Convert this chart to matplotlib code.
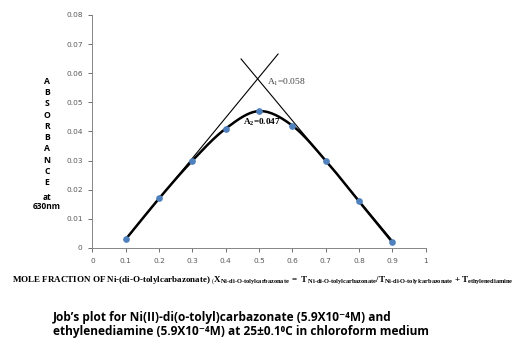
import numpy as np
import matplotlib
matplotlib.use("Agg")
import matplotlib.pyplot as plt

x_frac = [0.1, 0.2, 0.3, 0.4, 0.5, 0.6, 0.7, 0.8, 0.9]
absorb = [0.003, 0.017, 0.030, 0.041, 0.047, 0.042, 0.030, 0.016, 0.002]
left_tangent_x = [0.1, 0.557]
left_tangent_y = [0.003, 0.0666]
right_tangent_x = [0.446, 0.9]
right_tangent_y = [0.0649, 0.0025]
xticks = [0, 0.1, 0.2, 0.3, 0.4, 0.5, 0.6, 0.7, 0.8, 0.9, 1]
yticks = [0, 0.01, 0.02, 0.03, 0.04, 0.05, 0.06, 0.07, 0.08]


def catmull_rom(xs, ys, n=30):
    xs = np.asarray(xs, float); ys = np.asarray(ys, float)
    P = np.column_stack([xs, ys])
    P = np.vstack([P[0] - (P[1] - P[0]), P, P[-1] + (P[-1] - P[-2])])
    out = []
    t = np.linspace(0, 1, n)[:, None]
    for i in range(1, len(P) - 2):
        p0, p1, p2, p3 = P[i - 1], P[i], P[i + 1], P[i + 2]
        seg = 0.5 * ((2 * p1) + (-p0 + p2) * t + (2 * p0 - 5 * p1 + 4 * p2 - p3) * t ** 2
                     + (-p0 + 3 * p1 - 3 * p2 + p3) * t ** 3)
        out.append(seg)
    out = np.vstack(out)
    return out[:, 0], out[:, 1]


plt.rcParams['mathtext.fontset'] = 'custom'
plt.rcParams['mathtext.rm'] = 'Liberation Serif'
plt.rcParams['mathtext.bf'] = 'Liberation Serif:bold'
plt.rcParams['mathtext.it'] = 'Liberation Serif:italic'

fig = plt.figure(figsize=(5.23, 3.43), dpi=100)
ax = fig.add_axes([0.1767, 0.277, 0.6373, 0.6793])

ax.plot(left_tangent_x, left_tangent_y, color='black', lw=0.8)
ax.plot(right_tangent_x, right_tangent_y, color='black', lw=0.8)
cx, cy = catmull_rom(x_frac, absorb)
ax.plot(cx, cy, color='black', lw=1.8)
ax.plot(x_frac, absorb, 'o', color='#4F81BD', ms=3.8, zorder=5)

ax.set_xlim(0, 1)
ax.set_ylim(0, 0.08)
ax.set_xticks(xticks)
ax.set_xticklabels([f"{v:g}" for v in xticks])
ax.set_yticks(yticks)
ax.set_yticklabels([f"{v:g}" for v in yticks])
ax.tick_params(labelsize=5.3, colors='#595959', length=3, width=0.6, pad=4)
for s in ['top', 'right']:
    ax.spines[s].set_visible(False)
for s in ['left', 'bottom']:
    ax.spines[s].set_color('#868686')
    ax.spines[s].set_linewidth(0.7)

ax.text(0.524, 0.0567, r"A$_1$=0.058", fontsize=6.8, family='Liberation Serif',
        color='#404040', va='center', ha='left')
ax.text(0.452, 0.0432, r"$\mathbf{A_2}$=0.047", fontsize=6.6, family='Liberation Serif',
        fontweight='bold', va='center', ha='left')

# vertical y label
ylab = "A\nB\nS\nO\nR\nB\nA\nN\nC\nE"
fig.text(47 / 523, 1 - 132 / 343, ylab, fontsize=6.2, fontweight='bold', family=['Open Sans', 'DejaVu Sans'],
         ha='center', va='center', linespacing=1.33)
fig.text(47 / 523, 1 - 202 / 343, "at\n630nm", fontsize=6.0, fontweight='bold', family=['Open Sans', 'DejaVu Sans'],
         ha='center', va='center', linespacing=1.05)

xl = (r"MOLE FRACTION OF Ni-(di-O-tolylcarbazonate) "
      r"$_{(}\mathbf{X}_{\mathbf{Ni\text{-}di\text{-}O\text{-}tolylcarbazonate}}"
      r"\ \mathbf{=\ T}_{\ \mathbf{Ni\text{-}di\text{-}O\text{-}tolylcarbazonate}}"
      r"\mathbf{/T}_{\mathbf{Ni\text{-}di\text{-}O\text{-}tolylcarbazonate}}"
      r"\ \mathbf{+\ T}_{\mathbf{ethylenediamine}}$")
fig.text(12 / 523, 1 - 281 / 343, xl, fontsize=6.5, fontweight='bold', family='Liberation Serif',
         ha='left', va='center')

title = ("Job\u2019s plot for Ni(II)-di(o-tolyl)carbazonate (5.9X10\u207b\u2074M) and\n"
         "ethylenediamine (5.9X10\u207b\u2074M) at 25\u00b10.1\u2070C in chloroform medium")
fig.text(53 / 523, 1 - 324.5 / 343, title, fontsize=8.6, fontweight='bold', family=['Open Sans', 'DejaVu Sans'],
         ha='left', va='center', linespacing=1.15)

fig.savefig("out.png", dpi=100)
